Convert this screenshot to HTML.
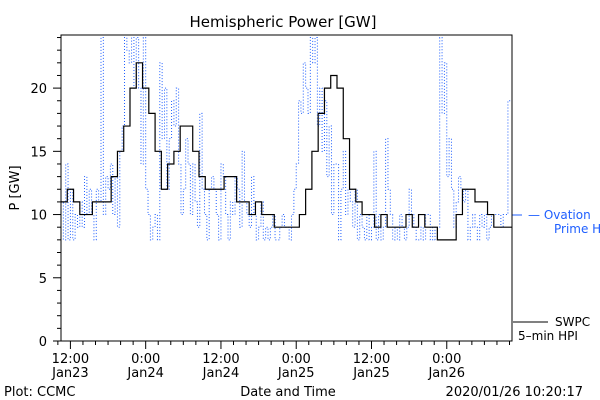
<!DOCTYPE html>
<html><head><meta charset="utf-8"><style>
html,body{margin:0;padding:0;background:#fff}
svg{display:block;font-family:"DejaVu Sans","Liberation Sans",sans-serif}
</style></head><body>
<svg id="chart" width="600" height="400" viewBox="0 0 600 400">
<defs><clipPath id="plotclip"><rect x="61" y="35" width="451" height="306"/></clipPath></defs>
<text x="283" y="27" font-size="15" text-anchor="middle">Hemispheric Power [GW]</text>
<text transform="translate(19,188) rotate(-90)" font-size="13" text-anchor="middle">P [GW]</text>
<text x="288" y="396" font-size="13" text-anchor="middle">Date and Time</text>
<text x="4" y="396" font-size="13">Plot: CCMC</text>
<text x="583" y="396" font-size="13" text-anchor="end">2020/01/26 10:20:17</text>
<g id="axes"></g>
<g id="series" clip-path="url(#plotclip)"></g>
<g>
<line x1="512" y1="215" x2="522" y2="215" stroke="#1f5fff" stroke-width="1"/>
<text x="528" y="219" font-size="12" fill="#1f5fff">— Ovation</text>
<text x="554" y="233" font-size="12" fill="#1f5fff">Prime HPI</text>
</g>
<g>
<line x1="513" y1="322" x2="548" y2="322" stroke="#000" stroke-width="1"/>
<text x="555" y="326" font-size="12">SWPC</text>
<text x="518" y="340" font-size="12">5–min HPI</text>
</g>
<rect x="61" y="35" width="451" height="306" fill="none" stroke="#000" stroke-width="1"/>
</svg>
<script>
const yTicks=[0,5,10,15,20];
const xTickLabels=[["12:00","Jan23"],["0:00","Jan24"],["12:00","Jan24"],["0:00","Jan25"],["12:00","Jan25"],["0:00","Jan26"]];
const xTickHours=[1.5,13.5,25.5,37.5,49.5,61.5];
const swpcHours=[0,1,2,3,4,5,6,7,8,9,10,11,12,13,14,15,16,17,18,19,20,21,22,23,24,25,26,27,28,29,30,31,32,33,34,35,36,37,38,39,40,41,42,43,44,45,46,47,48,49,50,51,52,53,54,55,56,57,58,59,60,61,62,63,64,65,66,67,68,69,70,71,72];
const swpcValues=[11,12,11,10,10,11,11,11,13,15,17,20,22,20,18,15,12,14,15,17,17,15,13,12,12,12,13,13,11,11,10,11,10,10,9,9,9,9,10,12,15,18,20,21,20,16,12,11,10,10,9,10,9,9,9,10,9,10,9,9,8,8,8,10,12,12,11,11,10,9,9,9,9];
const ovationValues=[11,8,14,8,12,8,10,9, 11,9,13,10,12,10,8,12, 11,24,10,13,12,14,10,13, 9,15,17,24,23,22,24,20, 24,20,14,24,12,10,8,9, 10,8,22,16,20,12,16,19, 17,20,14,10,12,16,14,10, 14,11,9,18,12,10,8,12, 13,12,10,8,14,13,10,8, 11,10,13,12,9,15,11,10, 9,13,10,8,9,11,8,9, 8,9,10,8,8,9,10,9, 9,8,10,12,14,19,18,22, 20,18,24,22,24,17,20,15, 19,13,17,10,14,14,8,12, 15,10,12,11,9,12,8,10, 9,8,10,8,9,15,8,10, 8,9,16,12,10,8,9,8, 10,9,8,9,12,10,9,8, 8,9,8,10,10,8,9,8, 9,24,18,22,13,16,12,9, 11,13,12,11,12,8,9,10, 9,8,10,9,10,8,9,10, 10,10,10,9,10,10,19,19];
const ovationStepHours=0.375;

const NS="http://www.w3.org/2000/svg";
const X0=61,X1=512,Y0=341,YT=35,H0=0,H1=71.9,V0=0,V1=24.2;
const xs=h=>X0+(h-H0)/(H1-H0)*(X1-X0);
const ys=v=>Y0-(v-V0)/(V1-V0)*(Y0-YT);
function mk(tag,attrs,parent){const e=document.createElementNS(NS,tag);for(const k in attrs)e.setAttribute(k,attrs[k]);parent.appendChild(e);return e;}
const axes=document.getElementById('axes'),series=document.getElementById('series');

for(let v=0;v<=24;v++){
  const maj=v%5===0;
  const t=mk('line',{x1:X0-(maj?8:4),x2:X0,y1:ys(v),y2:ys(v),stroke:'#000'},axes);
  
  
}
yTicks.forEach(v=>{
  const t=mk('text',{x:47,y:ys(v)+5,'font-size':13,'text-anchor':'end'},axes);
  t.textContent=v;
  
  
});
for(let h=-0.5;h<=72;h+=2){
  const maj=xTickHours.some(x=>Math.abs(x-h)<0.01);
  const t=mk('line',{x1:xs(h),x2:xs(h),y1:Y0,y2:Y0+(maj?8:4),stroke:'#000'},axes);
  
  
}
xTickHours.forEach((h,i)=>{
  const t=mk('text',{x:xs(h),y:363,'font-size':13,'text-anchor':'middle'},axes);
  t.textContent=xTickLabels[i][0];
  
  
  const d=mk('text',{x:xs(h),y:377,'font-size':13,'text-anchor':'middle'},axes);
  d.textContent=xTickLabels[i][1];
  
  
});
let d='';
ovationValues.forEach((v,i)=>{
  const h=i*ovationStepHours, x=xs(h), y=ys(Math.min(v,V1));
  d+= i===0?`M${x},${y}`:`H${x}V${y}`;
});
const ov=mk('path',{d:d,fill:'none',stroke:'#1f5fff','stroke-width':1,'stroke-dasharray':'1,2'},series);


let d2='';
swpcValues.forEach((v,i)=>{
  const x=xs(swpcHours[i]), y=ys(v);
  d2+= i===0?`M${x},${y}`:`H${x}V${y}`;
});
d2+=`H${X1}`;
const sw=mk('path',{d:d2,fill:'none',stroke:'#000','stroke-width':1.2},series);


</script>
</body></html>
